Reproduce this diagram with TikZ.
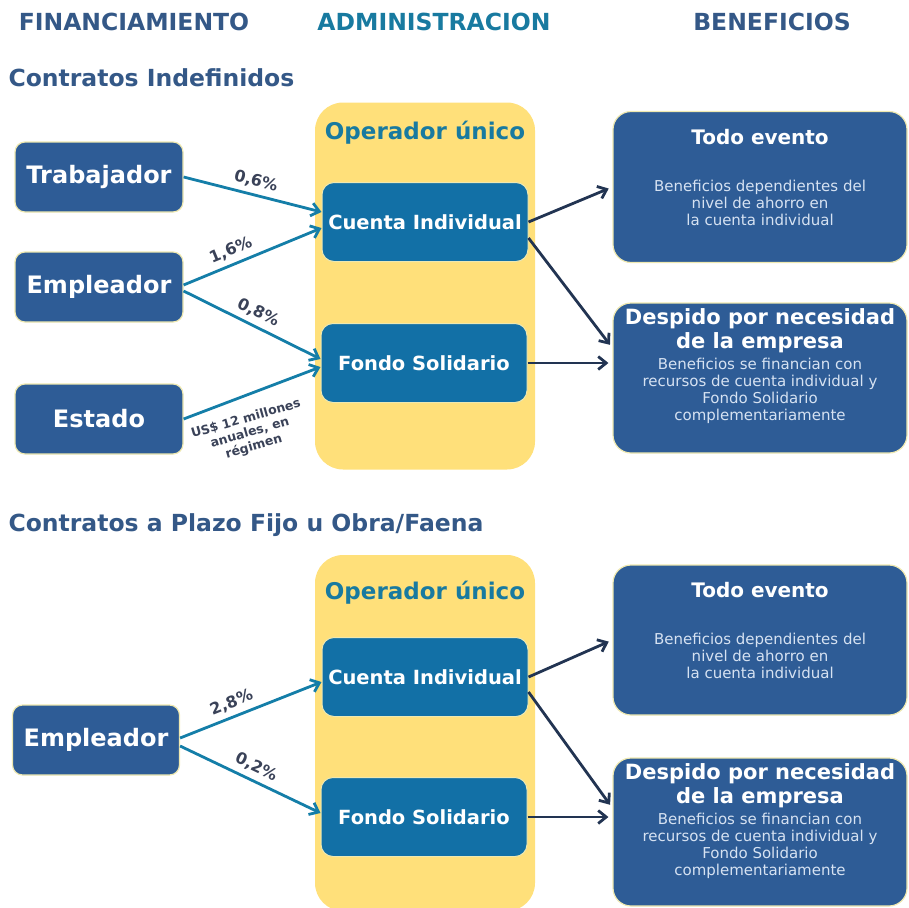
\documentclass[tikz,border=0pt]{standalone}
\usepackage{fontspec}
\setmainfont{DejaVu Sans}
\usetikzlibrary{arrows.meta,positioning}

\definecolor{srcblue}{RGB}{46,92,150}
\definecolor{admblue}{RGB}{18,112,166}
\definecolor{opyellow}{RGB}{255,224,122}
\definecolor{headblue}{RGB}{52,88,135}
\definecolor{headteal}{RGB}{24,122,160}
\definecolor{flowteal}{RGB}{20,126,168}
\definecolor{flowdark}{RGB}{34,52,82}
\definecolor{pctgray}{RGB}{58,66,88}
\definecolor{halo}{RGB}{238,232,176}
\definecolor{bodytext}{RGB}{214,226,242}

\newcommand{\fsize}[2]{\fontsize{#1}{#2}\selectfont}

\begin{document}
\begin{tikzpicture}[x=1pt,y=-1pt,
    head/.style={font=\bfseries\fsize{23.5}{27}},
    srcbox/.style={rectangle,rounded corners=10pt,fill=srcblue,draw=halo,line width=1.2pt,
        text=white,font=\bfseries\fsize{24}{28},minimum width=168pt,minimum height=70pt},
    admbox/.style={rectangle,rounded corners=12pt,fill=admblue,draw=halo,line width=1pt,
        text=white,font=\bfseries\fsize{19.5}{23},minimum width=206pt,minimum height=79pt},
    benbox/.style={rectangle,rounded corners=18pt,fill=srcblue,draw=halo,line width=1.2pt,
        minimum width=294pt},
    bentext/.style={align=center,text=bodytext,font=\fsize{15}{17},inner sep=0pt},
    opbox/.style={rectangle,rounded corners=28pt,fill=opyellow,minimum width=220pt},
    optitle/.style={text=headteal,font=\bfseries\fsize{23}{27}},
    inflow/.style={->,flowteal,line width=2.8pt},
    outflow/.style={->,flowdark,line width=2.8pt,shorten >=4pt},
    pct/.style={font=\bfseries\fsize{16}{18},text=pctgray,sloped,above=2pt},
    estnote/.style={font=\bfseries\fsize{12.5}{14.5},text=pctgray,align=center},
    >={Straight Barb[length=8pt,width=13pt]}]

    \useasboundingbox (0,0) rectangle (909,907);

    % column titles
    \node[head,text=headblue] (hfin) at (134,22) {FINANCIAMIENTO};
    \node[head,text=headteal] (hadm) at (434,22) {ADMINISTRACION};
    \node[head,text=headblue] (hben) at (772,22) {BENEFICIOS};

    % Contratos indefinidos
    \node[head,text=headblue,anchor=west] (hind) at (5,78) {Contratos Indefinidos};

    \node[opbox,minimum height=367pt] (op1) at (425,286) {};
    \node[optitle] (opt1) at (425,133) {Operador único};
    \node[admbox] (ci1) at (425,222) {Cuenta Individual};
    \node[admbox] (fs1) at (424,363) {Fondo Solidario};

    \node[srcbox] (tra) at (99,177) {Trabajador};
    \node[srcbox] (emp) at (99,287) {Empleador};
    \node[srcbox] (est) at (99,419) {Estado};

    \node[benbox,minimum height=151pt] (te1) at (760,187) {};
    \node[bentext,below=18pt of te1.north] (te1t) {\textcolor{white}{\bfseries\fsize{20}{24}Todo evento}\\[30pt]
        Beneficios dependientes del\\nivel de ahorro en\\la cuenta individual};
    \node[benbox,minimum height=150pt] (dp1) at (760,378) {};
    \node[bentext,below=6pt of dp1.north] (dp1t) {\textcolor{white}{\bfseries\fsize{21}{24}Despido por necesidad}\\[3pt]
        \textcolor{white}{\bfseries\fsize{21}{24}de la empresa}\\[4pt]
        Beneficios se financian con\\recursos de cuenta individual y\\Fondo Solidario\\complementariamente};

    \draw[inflow] (tra.east) -- ([yshift=10pt]ci1.west) node[pct,midway] {0,6\%};
    \draw[inflow] ([yshift=2pt]emp.east) -- ([yshift=-6pt]ci1.west) node[pct,pos=0.38] {1,6\%};
    \draw[inflow] ([yshift=-4pt]emp.east) -- ([yshift=4pt]fs1.west) node[pct,midway] {0,8\%};
    \draw[inflow] (est.east) -- ([yshift=-4pt]fs1.west);
    \node[estnote,rotate=16] (estt) at (250,433) {US\$ 12 millones\\anuales, en\\régimen};

    \draw[outflow] (ci1.east) -- (te1.west);
    \draw[outflow] ([yshift=-16pt]ci1.east) -- ([yshift=30pt]dp1.west);
    \draw[outflow] (fs1.east) -- ([yshift=15pt]dp1.west);

    % Contratos a plazo fijo
    \node[head,text=headblue,anchor=west] (hpla) at (5,525) {Contratos a Plazo Fijo u Obra/Faena};

    \node[opbox,minimum height=356pt] (op2) at (425,733) {};
    \node[optitle] (opt2) at (425,593) {Operador único};
    \node[admbox] (ci2) at (425,677) {Cuenta Individual};
    \node[admbox] (fs2) at (424,817) {Fondo Solidario};

    \node[srcbox,minimum width=167pt] (emp2) at (96,740) {Empleador};

    \node[benbox,minimum height=150pt] (te2) at (760,640) {};
    \node[bentext,below=18pt of te2.north] (te2t) {\textcolor{white}{\bfseries\fsize{20}{24}Todo evento}\\[30pt]
        Beneficios dependientes del\\nivel de ahorro en\\la cuenta individual};
    \node[benbox,minimum height=148pt] (dp2) at (760,832) {};
    \node[bentext,below=6pt of dp2.north] (dp2t) {\textcolor{white}{\bfseries\fsize{21}{24}Despido por necesidad}\\[3pt]
        \textcolor{white}{\bfseries\fsize{21}{24}de la empresa}\\[4pt]
        Beneficios se financian con\\recursos de cuenta individual y\\Fondo Solidario\\complementariamente};

    \draw[inflow] ([yshift=2pt]emp2.east) -- ([yshift=-5pt]ci2.west) node[pct,pos=0.4] {2,8\%};
    \draw[inflow] ([yshift=-6pt]emp2.east) -- ([yshift=4pt]fs2.west) node[pct,midway] {0,2\%};

    \draw[outflow] (ci2.east) -- (te2.west);
    \draw[outflow] ([yshift=-15pt]ci2.east) -- ([yshift=24pt]dp2.west);
    \draw[outflow] (fs2.east) -- ([yshift=15pt]dp2.west);
\end{tikzpicture}
\end{document}
